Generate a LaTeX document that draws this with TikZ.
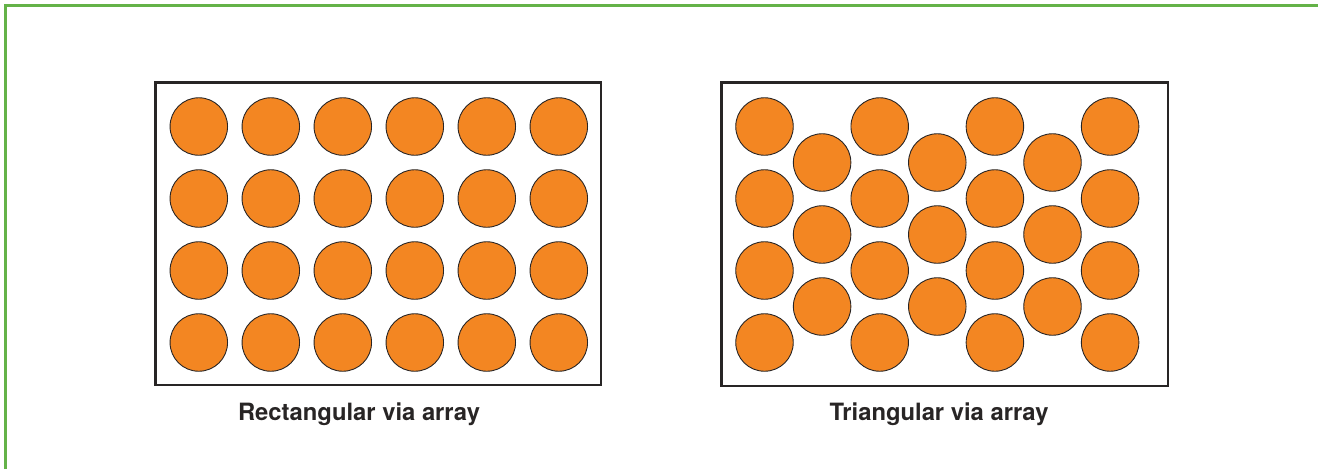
\documentclass[tikz,border=0pt]{standalone}
\usepackage{fontspec}
\setmainfont{TeX Gyre Heros}
\definecolor{frameg}{RGB}{100,178,72}
\definecolor{dot}{RGB}{243,134,34}
\definecolor{edge}{RGB}{40,37,37}
\begin{document}
\begin{tikzpicture}[x=1pt,y=-1pt,
  ball/.style={circle,draw=edge,line width=0.9pt,fill=dot,minimum size=57.5pt,inner sep=0pt},
  panel/.style={draw=edge,line width=2.2pt},
  captext/.style={anchor=base,font=\bfseries\fontsize{23.8}{28}\selectfont,text=edge,inner sep=0pt}]
\useasboundingbox (0,0) rectangle (1320,469);
\draw[frameg,line width=3pt] (5,469) -- (5,5) -- (1318,5);
% left panel
\draw[panel] (155.5,82.5) rectangle (601,385);
\foreach \c in {0,...,5}{
  \foreach \r in {0,...,3}{
    \node[ball] (r\c\r) at ({198.8+72*\c},{126.5+72*\r}) {};
  }
}
\node[captext] (capL) at (359,420) {Rectangular via array};
% right panel
\draw[panel] (721.5,82.5) rectangle (1168,386);
\foreach \c in {0,2,4,6}{
  \foreach \r in {0,...,3}{
    \node[ball] (t\c\r) at ({764.5+57.6*\c},{126.5+72*\r}) {};
  }
}
\foreach \c in {1,3,5}{
  \foreach \r in {0,...,2}{
    \node[ball] (t\c\r) at ({764.5+57.6*\c},{162.5+72*\r}) {};
  }
}
\node[captext] (capR) at (939,420) {Triangular via array};
\end{tikzpicture}
\end{document}
